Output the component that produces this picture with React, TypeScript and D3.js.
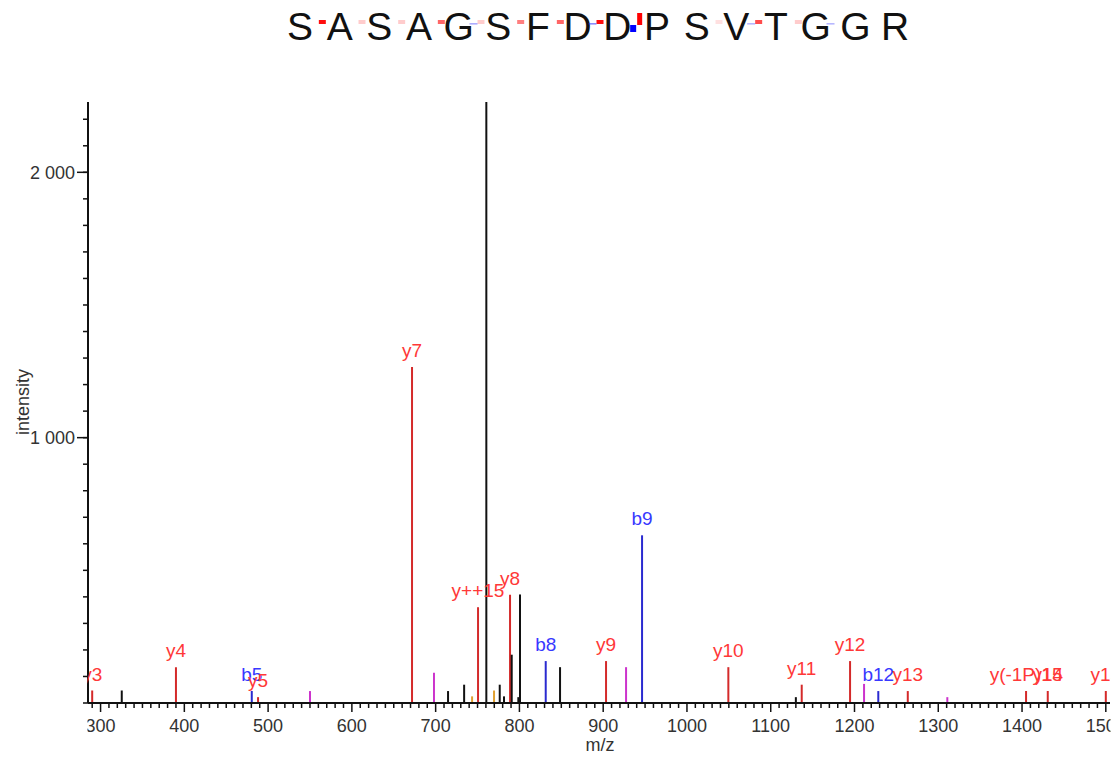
import React from "react";
import * as d3 from "d3";

const sequence = ["S","A","S","A","G","S","F","D","D","P","S","V","T","G","G","R"];
// fragment coverage marker levels per gap between residues (0 = none, >1 = strong/large)
const yMarkerLevel = [0.95, 0.2, 0.2, 0.6, 0.2, 0.5, 0.6, 0.95, 2, 0, 0.12, 0.7, 0.2, 0, 0];
const bMarkerLevel = [0, 0, 0, 0, 0.4, 0, 0, 0.55, 2, 0, 0, 0.35, 0, 0.35, 0];

const peakMz = [290, 325.3, 390, 480.5, 488, 550, 671.8, 698, 714.8, 734, 743.5, 750.6, 760.5, 769.7, 776.5, 781.6, 788.8, 790.8, 798.7, 800.7, 831.4, 848.5, 903.4, 927.3, 946.4, 1049.4, 1130, 1137, 1194.7, 1211.4, 1228.4, 1263.6, 1310.8, 1404.8, 1430.7, 1500];
const peakIntensity = [47, 47, 135, 45, 22, 45, 1266, 114, 45, 69, 25, 361, 2265, 47, 69, 25, 408, 182, 22, 409, 158, 135, 158, 135, 632, 135, 22, 69, 158, 72, 45, 45, 22, 45, 45, 45];
const peakType = ["y","o","y","b","y","m","y","m","o","o","a","y","o","a","o","o","y","o","o","o","b","o","y","m","b","y","o","y","y","m","b","y","m","y","y","y"];
const peakLabel = ["y3","","y4","b5","y5","","y7","","","","","y++15","","","","","y8","","","","b8","","y9","","b9","y10","","y11","y12","","b12","y13","","y(-1P)15","y14","y15"];

const xDomain = [285, 1505];
const yDomain = [0, 2265];
const yMajorTicks = [1000, 2000];

const lineColor: Record<string, string> = { y: "#d42a2a", b: "#2a2ad0", m: "#cc33cc", a: "#e0a030", o: "#111111" };
const labelColor: Record<string, string> = { y: "#ff3838", b: "#3838ff" };

export default function App() {
  const W = 1115, H = 757;
  const left = 88, right = 1110, top = 102, bottom = 703;
  const x = d3.scaleLinear().domain(xDomain).range([left, right]);
  const y = d3.scaleLinear().domain(yDomain).range([bottom, top]);
  const font = "Liberation Sans, Arial, Helvetica, sans-serif";

  const xMinor = d3.range(Math.ceil(xDomain[0] / 10) * 10, xDomain[1] + 1, 10);
  const yMinor = d3.range(0, yDomain[1], 100);

  const letterX = d3.scalePoint<number>().domain(d3.range(sequence.length)).range([300, 895]);

  return (
    <svg width={W} height={H} style={{ position: "absolute", left: 0, top: 0, background: "#fff" }} fontFamily={font}>
      <defs>
        <clipPath id="plotClip">
          <rect x={left - 0.5} y={0} width={right - left + 1} height={H} />
        </clipPath>
      </defs>
      <rect x={0} y={0} width={W} height={H} fill="#fff" />
      {/* sequence header */}
      <g>
        {sequence.map((s, i) => (
          <text key={i} x={letterX(i)} y={40} fontSize={39} textAnchor="middle" fill="#111">{s}</text>
        ))}
        {yMarkerLevel.map((lv, i) => {
          if (!lv) return null;
          const cx = ((letterX(i) as number) + (letterX(i + 1) as number)) / 2;
          if (lv > 1) return <rect key={"y" + i} x={cx} y={13} width={5} height={12} fill="#ff0000" />;
          return <rect key={"y" + i} x={cx - 1} y={20} width={7} height={4} fill="#ff0000" opacity={lv} />;
        })}
        {bMarkerLevel.map((lv, i) => {
          if (!lv) return null;
          const cx = ((letterX(i) as number) + (letterX(i + 1) as number)) / 2;
          if (lv > 1) return <rect key={"b" + i} x={cx - 7} y={25} width={6} height={7} fill="#0000ff" />;
          return <rect key={"b" + i} x={cx - 9} y={23} width={8} height={1.6} fill="#3030ff" opacity={lv} />;
        })}
      </g>

      {/* y axis */}
      <line x1={left} x2={left} y1={top} y2={bottom} stroke="#111" strokeWidth={2} />
      {yMinor.map((t) => (
        <line key={t} x1={left - 5} x2={left} y1={y(t)} y2={y(t)} stroke="#111" strokeWidth={1.5} />
      ))}
      {yMajorTicks.map((t) => (
        <g key={t}>
          <line x1={left - 11} x2={left} y1={y(t)} y2={y(t)} stroke="#111" strokeWidth={1.5} />
          <text x={left - 13} y={y(t)} dy="0.35em" fontSize={18} textAnchor="end" fill="#333">
            {d3.format(",")(t).replace(",", " ")}
          </text>
        </g>
      ))}
      <text transform={`translate(29,402) rotate(-90)`} fontSize={18} textAnchor="middle" fill="#333">intensity</text>

      <g clipPath="url(#plotClip)">
        {/* peaks */}
        {peakMz.map((m, i) => (
          <line key={i} x1={x(m)} x2={x(m)} y1={y(0)} y2={y(peakIntensity[i])} stroke={lineColor[peakType[i]]} strokeWidth={2} />
        ))}
        {peakMz.map((m, i) =>
          peakLabel[i] ? (
            <text key={"l" + i} x={x(m)} y={y(peakIntensity[i]) - 10} fontSize={19} textAnchor="middle" fill={labelColor[peakType[i]]}>
              {peakLabel[i]}
            </text>
          ) : null
        )}
        {/* x axis */}
        <line x1={left} x2={right} y1={bottom} y2={bottom} stroke="#111" strokeWidth={2} />
        {xMinor.map((t) => (
          <line key={t} x1={x(t)} x2={x(t)} y1={bottom} y2={bottom + (t % 100 === 0 ? 9 : 5)} stroke="#111" strokeWidth={1.5} />
        ))}
        {x.ticks(12).filter((t) => t % 100 === 0).map((t) => (
          <text key={"t" + t} x={x(t)} y={732} fontSize={18} textAnchor="middle" fill="#333">{t}</text>
        ))}
      </g>
      <text x={600} y={751} fontSize={18} textAnchor="middle" fill="#333">m/z</text>
    </svg>
  );
}
